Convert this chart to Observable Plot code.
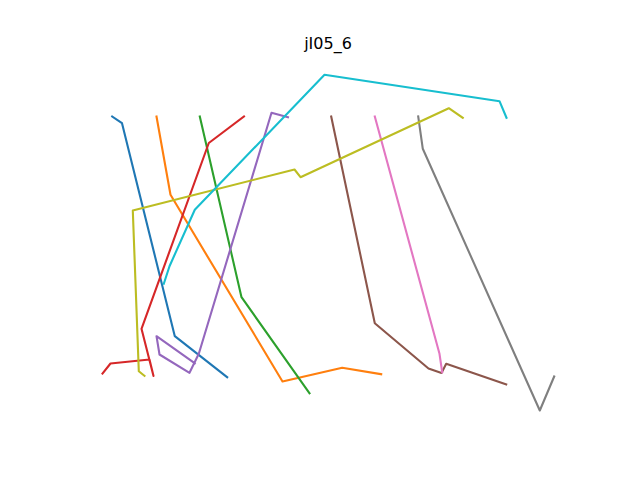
<!DOCTYPE html>
<html>
<head>
<meta charset="utf-8">
<script src="https://cdn.jsdelivr.net/npm/d3@7"></script>
<script src="https://cdn.jsdelivr.net/npm/@observablehq/plot@0.6"></script>
<style>
  html, body { margin: 0; padding: 0; background: #fff; }
  #title { height: 58px; box-sizing: border-box; padding-top: 34px; padding-left: 16px; width: 640px;
           text-align: center; font-family: "DejaVu Sans", sans-serif; font-size: 16px; line-height: 19px; color: #000; }
</style>
</head>
<body>
<div id="title">jI05_6</div>
<div id="chart"></div>
<script>
// Stroke coordinates (x to the right, y downward)
const stroke0X = [111.7, 121.5, 174.3, 226.7];
const stroke0Y = [116, 122.7, 335.7, 376.7];
const stroke1X = [156, 170, 282, 341.7, 380.7];
const stroke1Y = [116, 194.3, 381, 367.3, 373.7];
const stroke2X = [199.3, 241, 309];
const stroke2Y = [116, 296.7, 392.7];
const stroke3X = [243.5, 208.3, 141, 153, 149, 110, 102];
const stroke3Y = [116, 142.5, 328.3, 375.5, 359, 363, 373];
const stroke4X = [287.5, 271, 198.3, 189, 159, 156, 194.3];
const stroke4Y = [116.7, 112.3, 353.3, 372.3, 354, 335.7, 362.7];
const stroke5X = [330.7, 374.3, 428, 441, 445.7, 505.7];
const stroke5Y = [116, 322.7, 368, 372.5, 363.3, 384];
const stroke6X = [374.3, 439, 441.7];
const stroke6Y = [116, 353.3, 371.7];
const stroke7X = [417.7, 422.3, 539.3, 553.7];
const stroke7Y = [116, 148.3, 410, 376];
const stroke8X = [462.3, 448.3, 300, 294, 132.3, 138.3, 144];
const stroke8Y = [117.3, 107.7, 176.7, 169, 210, 370.7, 375.3];
const stroke9X = [163.3, 169, 194.3, 324, 499, 506];
const stroke9Y = [283.3, 265.7, 209.3, 74.3, 100.7, 117.3];

const strokesX = [stroke0X, stroke1X, stroke2X, stroke3X, stroke4X, stroke5X, stroke6X, stroke7X, stroke8X, stroke9X];
const strokesY = [stroke0Y, stroke1Y, stroke2Y, stroke3Y, stroke4Y, stroke5Y, stroke6Y, stroke7Y, stroke8Y, stroke9Y];

const colors = ["#1f77b4", "#ff7f0e", "#2ca02c", "#d62728", "#9467bd",
                "#8c564b", "#e377c2", "#7f7f7f", "#bcbd22", "#17becf"];

const rows = [];
strokesX.forEach((xs, i) => {
  xs.forEach((x, j) => rows.push({stroke: i, x, y: strokesY[i][j]}));
});

const chart = Plot.plot({
  width: 640,
  height: 422,
  marginLeft: 80,
  marginRight: 64,
  marginTop: 0,
  marginBottom: 53,
  x: {domain: [80, 576], axis: null},
  y: {domain: [427, 58], axis: null},
  color: {type: "ordinal", domain: d3.range(10), range: colors},
  style: {background: "#fff"},
  marks: [
    Plot.line(rows, {x: "x", y: "y", z: "stroke", stroke: "stroke",
                     strokeWidth: 2.1, strokeLinecap: "square", strokeLinejoin: "round"})
  ]
});
document.getElementById("chart").appendChild(chart);
</script>
</body>
</html>
